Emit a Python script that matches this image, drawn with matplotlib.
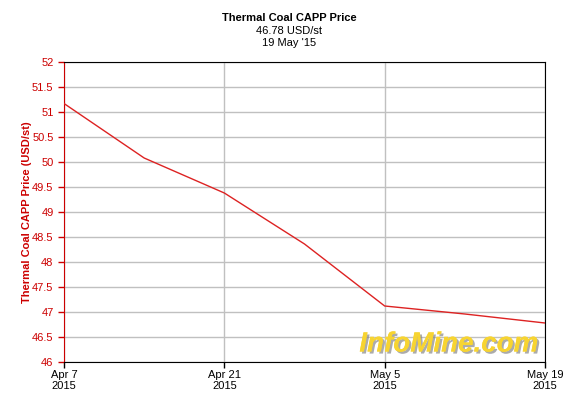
import matplotlib
matplotlib.use("Agg")
import matplotlib.pyplot as plt
import matplotlib.patheffects as pe
import numpy as np

plt.rcParams['font.family'] = ['Liberation Sans', 'DejaVu Sans']

# weekly prices, days since Apr 7 2015
days = [0, 7, 14, 21, 28, 35, 42]
prices = [51.17, 50.08, 49.38, 48.36, 47.12, 46.96, 46.78]
tick_days = [0, 14, 28, 42]
tick_labels = ['Apr 7\n2015', 'Apr 21\n2015', 'May 5\n2015', 'May 19\n2015']
yticks = np.arange(46, 52.01, 0.5)

red = '#cc0000'

fig = plt.figure(figsize=(5.78, 4.12), dpi=100)
ax = fig.add_axes([64 / 578, 1 - 362 / 412, 481 / 578, 300 / 412])

ax.plot(days, prices, color='#dd2222', lw=1.0, zorder=3)

ax.set_xlim(0, 42)
ax.set_ylim(46, 52)
ax.set_yticks(yticks)
ax.set_yticklabels([f'{v:g}' for v in yticks], color=red, fontsize=8)
ax.set_xticks(tick_days)
ax.set_xticklabels(tick_labels, fontsize=8, linespacing=1.1)
ax.tick_params(axis='y', colors=red, length=4, width=1)
ax.tick_params(axis='x', length=4, width=1, pad=2)
ax.grid(True, color='#c0c0c0', lw=1)
ax.set_axisbelow(True)
for s in ['top', 'right', 'bottom']:
    ax.spines[s].set_color('black')
ax.spines['left'].set_color(red)

ax.set_ylabel('Thermal Coal CAPP Price (USD/st)', color=red, fontsize=8, fontweight='bold', labelpad=0)

fig.text(0.5, 1 - 18 / 412, 'Thermal Coal CAPP Price', ha='center', va='center', fontsize=8, fontweight='bold')
fig.text(0.5, 1 - 31 / 412, '46.78 USD/st', ha='center', va='center', fontsize=8)
fig.text(0.5, 1 - 43 / 412, "19 May '15", ha='center', va='center', fontsize=8)

ax.text(0.80, 0.015, 'InfoMine.com', transform=ax.transAxes, ha='center', va='bottom',
        fontsize=20, fontweight='bold', style='italic', color='#f7d431', zorder=4,
        path_effects=[pe.withSimplePatchShadow(offset=(1.5, -1.5), shadow_rgbFace='#888888', alpha=0.7), pe.Normal()])

fig.savefig('out.png', dpi=100)
